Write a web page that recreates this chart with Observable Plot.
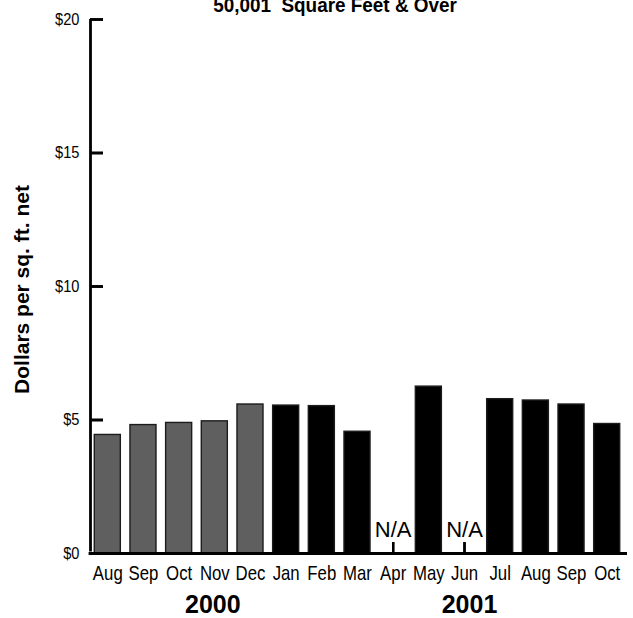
<!DOCTYPE html>
<html>
<head>
<meta charset="utf-8">
<script src="https://cdn.jsdelivr.net/npm/d3@7"></script>
<script src="https://cdn.jsdelivr.net/npm/@observablehq/plot@0.6"></script>
<style>
  body { margin: 0; background: #fff; }
  #wrap { position: relative; width: 633px; height: 618px; overflow: hidden; }
  #title { position: absolute; left: 0; width: 670px; top: -6px; text-align: center;
    font-family: "Liberation Sans", Arial, sans-serif;
    font-weight: bold; font-size: 21px; line-height: 21px; color: #000; white-space: pre;
    transform: scaleX(0.9); transform-origin: 335px 0; }
  #chart { position: absolute; left: 0; top: 0; }
</style>
</head>
<body>
<div id="wrap">
  <div id="chart"></div>
  <div id="title">50,001  Square Feet &amp; Over</div>
</div>
<script>
const months = ["Aug","Sep","Oct","Nov","Dec","Jan","Feb","Mar","Apr","May","Jun","Jul","Aug","Sep","Oct"];
const years  = ["2000","2000","2000","2000","2000","2001","2001","2001","2001","2001","2001","2001","2001","2001","2001"];
const values = [4.44, 4.81, 4.89, 4.95, 5.58, 5.54, 5.52, 4.56, null, 6.25, null, 5.78, 5.73, 5.58, 4.85];
const yTicks = [0, 5, 10, 15, 20];
const yearLabels = ["2000", "2001"];
const yearAnchors = ["Nov 2000", "Jun 2001"];
const naLabel = "N/A";
const yLabel = "Dollars per sq. ft. net";

const keys = months.map((m, i) => `${m} ${years[i]}`);
const data = keys.map((k, i) => ({key: k, month: months[i], year: years[i], value: values[i]}));
const present = data.filter(d => d.value != null);
const missing = data.filter(d => d.value == null);
const yearData = yearLabels.map((t, i) => ({key: yearAnchors[i], label: t}));

const font = '"Liberation Sans", Arial, sans-serif';
const W = 633, H = 618, ML = 90, MR = 9, MT = 19, MB = 65;
const PI = 0.27, PO = 0.12;
const tickLenY = 13, tickLenX = 11;
// distance from frame left edge to the first band's centre (to draw the y-axis line)
const step = (W - ML - MR) / (keys.length - PI + 2 * PO);
const firstCenterOffset = PO * step + (1 - PI) * step / 2;

const chart = Plot.plot({
  width: W,
  height: H,
  marginLeft: ML,
  marginRight: MR,
  marginTop: MT,
  marginBottom: MB,
  style: {fontFamily: font, background: "#fff", color: "#000"},
  x: {domain: keys, paddingInner: PI, paddingOuter: PO, round: false},
  y: {domain: [yTicks[0], yTicks[yTicks.length - 1]]},
  marks: [
    // axes with inward ticks (negative tick size) and labels outside
    Plot.axisY({
      ticks: yTicks, tickSize: -tickLenY, tickPadding: tickLenY + 11,
      strokeWidth: 2.6, fontSize: 17, fontFamily: font,
      tickFormat: d => "$" + d, label: null
    }),
    Plot.axisX({
      tickSize: -tickLenX, tickPadding: tickLenX + 12,
      strokeWidth: 2.4, fontSize: 20, fontFamily: font,
      tickFormat: k => k.split(" ")[0], label: null
    }),
    Plot.barY(present, {
      x: "key", y: "value",
      fill: d => d.year === "2000" ? "#5f5f5f" : "#000",
      stroke: "#1c1c1c", strokeWidth: 1.4
    }),
    Plot.text(missing, {
      x: "key", y: 0, text: () => naLabel, dy: -24,
      fontSize: 22, fontFamily: font, fill: "#000"
    }),
    Plot.text(yearData.slice(0, 1), {
      x: "key", text: "label", frameAnchor: "bottom", lineAnchor: "middle", dy: 51, dx: -2,
      fontSize: 25, fontWeight: "bold", fontFamily: font, fill: "#000"
    }),
    Plot.text(yearData.slice(1), {
      x: "key", text: "label", frameAnchor: "bottom", lineAnchor: "middle", dy: 51, dx: 5,
      fontSize: 25, fontWeight: "bold", fontFamily: font, fill: "#000"
    }),
    Plot.text([yLabel], {
      text: d => d, frameAnchor: "left", textAnchor: "middle", lineAnchor: "middle",
      rotate: -90, dx: -68, dy: 3,
      fontSize: 21, fontWeight: "bold", fontFamily: font, fill: "#000"
    }),
    // axis lines
    Plot.ruleY([yTicks[0]], {y: d => d, stroke: "#000", strokeWidth: 2.8,
      insetLeft: -1.4, insetRight: -3}),
    Plot.ruleX([keys[0]], {x: d => d, y1: yTicks[0], y2: yTicks[yTicks.length - 1],
      dx: -firstCenterOffset, stroke: "#000", strokeWidth: 2.8, insetTop: -1.4}),
    // inward tick marks drawn again as rules, on top
    Plot.ruleY(yTicks, {y: d => d, stroke: "#000", strokeWidth: 2.6,
      insetRight: W - ML - MR - tickLenY}),
    Plot.ruleX(missing, {x: "key", stroke: "#000", strokeWidth: 2.4,
      insetTop: H - MT - MB - tickLenX})
  ]
});

// condense axis tick labels horizontally (narrow face)
function condense(sel, k) {
  chart.querySelectorAll(sel).forEach(t => {
    const tr = t.getAttribute("transform");
    if (tr) {
      t.setAttribute("transform", tr + ` scale(${k},1)`);
    } else {
      const x = +(t.getAttribute("x") || 0), y = +(t.getAttribute("y") || 0);
      t.removeAttribute("x"); t.removeAttribute("y");
      t.setAttribute("transform", `translate(${x},${y}) scale(${k},1)`);
    }
  });
}
condense('g[aria-label="x-axis tick label"] text', 0.84);
condense('g[aria-label="y-axis tick label"] text', 0.86);

document.getElementById("chart").appendChild(chart);
</script>
</body>
</html>
